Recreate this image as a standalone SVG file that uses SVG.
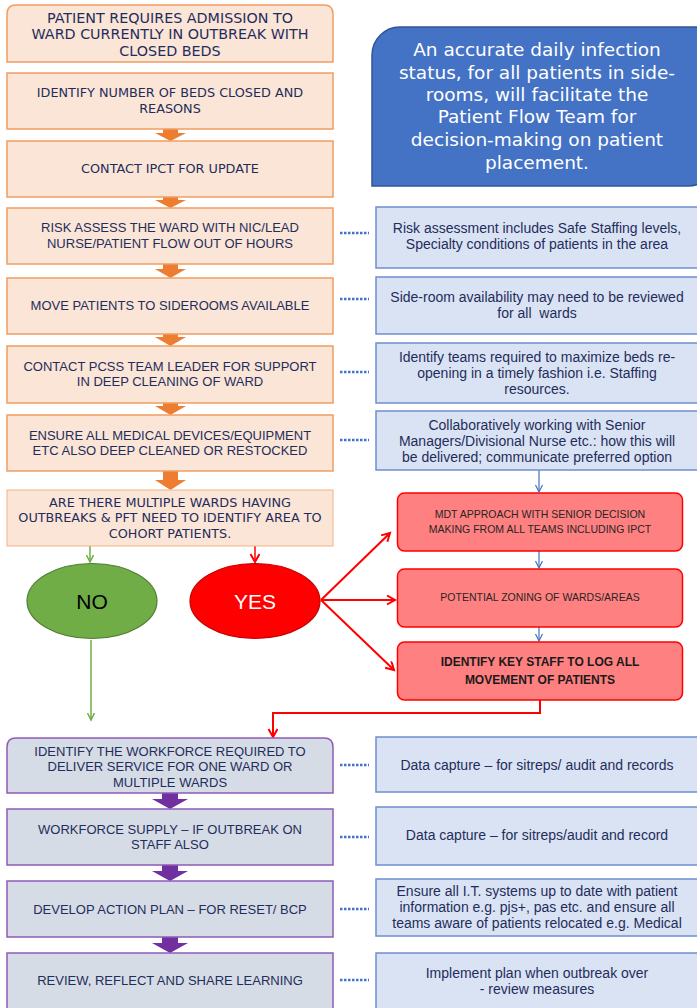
<svg xmlns="http://www.w3.org/2000/svg" width="697" height="1008" viewBox="0 0 697 1008">
<style>
.ob{fill:#FBE5D6;stroke:#F19E62;stroke-width:1.5}
.pb{fill:#D6DCE5;stroke:#8E5BB8;stroke-width:1.5}
.rb{fill:#DAE3F3;stroke:#6F8FCF;stroke-width:1.5}
.red{fill:#FF8080;stroke:#FF0000;stroke-width:1.5}
.tv{font-family:"DejaVu Sans",Verdana,sans-serif;fill:#1F2D5C;text-anchor:middle}
.tt{font-family:"Liberation Sans",Arial,sans-serif;font-size:13px;fill:#1F2D5C;text-anchor:middle}
.tr{font-family:"Liberation Sans",Arial,sans-serif;font-size:14px;fill:#1F2D5C;text-anchor:middle;white-space:pre}
.tc{font-family:"Liberation Sans",Arial,sans-serif;font-size:10.5px;fill:#262626;text-anchor:middle}
.tb{font-family:"Liberation Sans",Arial,sans-serif;font-size:12px;font-weight:bold;fill:#1a1a1a;text-anchor:middle}
.oa{fill:#ED7D31}
.pa{fill:#7030A0}
.dot{stroke:#4472C4;stroke-width:2.5;stroke-dasharray:2.5 1.5;fill:none}
</style>
<defs>
<marker id="ar" markerWidth="12" markerHeight="12" refX="9" refY="5" orient="auto" markerUnits="userSpaceOnUse"><path d="M1,0.5 L9,5 L1,9.5" fill="none" stroke="#FF0000" stroke-width="2"/></marker>
<marker id="ag" markerWidth="10" markerHeight="10" refX="8" refY="4" orient="auto" markerUnits="userSpaceOnUse"><path d="M1,0.5 L8,4 L1,7.5" fill="none" stroke="#70AD47" stroke-width="1.5"/></marker>
<marker id="ab" markerWidth="10" markerHeight="10" refX="8" refY="4" orient="auto" markerUnits="userSpaceOnUse"><path d="M1,0.5 L8,4 L1,7.5" fill="none" stroke="#4472C4" stroke-width="1.2"/></marker>
</defs>

<g id="callout">
<path d="M372,186 V55 A28,28 0 0 1 400,27 H716 V158 A28,28 0 0 1 688,186 Z" fill="#4472C4" stroke="#2F5597" stroke-width="1.5"/>
<g font-family="'DejaVu Sans',Verdana,sans-serif" font-size="18.5" fill="#FFFFFF" text-anchor="middle">
<text x="537" y="56">An accurate daily infection</text>
<text x="537" y="79">status, for all patients in side-</text>
<text x="537" y="101">rooms, will facilitate the</text>
<text x="537" y="123">Patient Flow Team for</text>
<text x="537" y="146">decision-making on patient</text>
<text x="537" y="169">placement.</text>
</g>
</g>

<g id="connectors">
<polygon class="oa" points="163,128 178,128 178,133 186,133 170.5,141 155,133 163,133"/>
<polygon class="oa" points="163,196 178,196 178,200 186,200 170.5,208 155,200 163,200"/>
<polygon class="oa" points="163,263 178,263 178,269 186,269 170.5,278 155,269 163,269"/>
<polygon class="oa" points="163,333 178,333 178,337 186,337 170.5,346 155,337 163,337"/>
<polygon class="oa" points="163,402 178,402 178,406 186,406 170.5,415 155,406 163,406"/>
<polygon class="oa" points="163,470 178,470 178,480 186,480 170.5,490 155,480 163,480"/>
<polygon class="pa" points="162,792 178,792 178,799 188,799 170,809 152,799 162,799"/>
<polygon class="pa" points="162,864 178,864 178,871 188,871 170,881 152,871 162,871"/>
<polygon class="pa" points="162,936 178,936 178,943 188,943 170,953 152,943 162,943"/>
<line class="dot" x1="340" y1="233" x2="369" y2="233"/>
<line class="dot" x1="340" y1="299" x2="369" y2="299"/>
<line class="dot" x1="340" y1="372" x2="369" y2="372"/>
<line class="dot" x1="340" y1="440" x2="369" y2="440"/>
<line class="dot" x1="340" y1="765" x2="369" y2="765"/>
<line class="dot" x1="340" y1="837" x2="369" y2="837"/>
<line class="dot" x1="340" y1="909" x2="369" y2="909"/>
<line class="dot" x1="340" y1="980" x2="369" y2="980"/>
<line x1="90" y1="546" x2="90" y2="562" stroke="#70AD47" stroke-width="1.5" marker-end="url(#ag)"/>
<line x1="91" y1="640" x2="91" y2="720" stroke="#70AD47" stroke-width="1.5" marker-end="url(#ag)"/>
<line x1="255" y1="546" x2="255" y2="562" stroke="#FF0000" stroke-width="1.5" marker-end="url(#ar)"/>
<line x1="321" y1="600" x2="390" y2="533" stroke="#FF0000" stroke-width="2" marker-end="url(#ar)"/>
<line x1="321" y1="600" x2="395" y2="600" stroke="#FF0000" stroke-width="2" marker-end="url(#ar)"/>
<line x1="321" y1="600" x2="394" y2="670" stroke="#FF0000" stroke-width="2" marker-end="url(#ar)"/>
<line x1="539" y1="470" x2="539" y2="492" stroke="#4472C4" stroke-width="1.2" marker-end="url(#ab)"/>
<line x1="539" y1="551" x2="539" y2="568" stroke="#4472C4" stroke-width="1.2" marker-end="url(#ab)"/>
<line x1="539" y1="627" x2="539" y2="641" stroke="#4472C4" stroke-width="1.2" marker-end="url(#ab)"/>
<polyline points="540,700 540,713 273,713 273,737" fill="none" stroke="#FF0000" stroke-width="2" marker-end="url(#ar)"/>
</g>

<g id="n1"><path class="ob" d="M7,62 V14 Q7,5 16,5 H324 Q333,5 333,14 V62 Z"/>
<text class="tv" font-size="14.3" x="170" y="23">PATIENT REQUIRES ADMISSION TO</text>
<text class="tv" font-size="14.3" x="170" y="39">WARD CURRENTLY IN OUTBREAK WITH</text>
<text class="tv" font-size="14.3" x="170" y="56">CLOSED BEDS</text></g>

<g id="n2"><rect class="ob" x="7" y="73" width="326" height="56"/>
<text class="tv" font-size="12.8" x="170" y="97">IDENTIFY NUMBER OF BEDS CLOSED AND</text>
<text class="tv" font-size="12.8" x="170" y="113">REASONS</text></g>

<g id="n3"><rect class="ob" x="7" y="141" width="326" height="56"/>
<text class="tv" font-size="12.8" x="170" y="173">CONTACT IPCT FOR UPDATE</text></g>

<g id="n4"><rect class="ob" x="7" y="208" width="326" height="56"/>
<text class="tt" x="170" y="232">RISK ASSESS THE WARD WITH NIC/LEAD</text>
<text class="tt" x="170" y="248">NURSE/PATIENT FLOW OUT OF HOURS</text></g>

<g id="n5"><rect class="ob" x="7" y="278" width="326" height="56"/>
<text class="tt" x="170" y="310">MOVE PATIENTS TO SIDEROOMS AVAILABLE</text></g>

<g id="n6"><rect class="ob" x="7" y="346" width="326" height="57"/>
<text class="tt" x="170" y="371">CONTACT PCSS TEAM LEADER FOR SUPPORT</text>
<text class="tt" x="170" y="386">IN DEEP CLEANING OF WARD</text></g>

<g id="n7"><rect class="ob" x="7" y="415" width="326" height="56"/>
<text class="tt" x="170" y="440">ENSURE ALL MEDICAL DEVICES/EQUIPMENT</text>
<text class="tt" x="170" y="455">ETC ALSO DEEP CLEANED OR RESTOCKED</text></g>

<g id="n8"><rect x="7" y="490" width="326" height="56" fill="#FBE5D6" stroke="#F4B183" stroke-width="1"/>
<text class="tv" font-size="12.8" x="170" y="507">ARE THERE MULTIPLE WARDS HAVING</text>
<text class="tv" font-size="12.8" x="170" y="522">OUTBREAKS &amp; PFT NEED TO IDENTIFY AREA TO</text>
<text class="tv" font-size="12.8" x="170" y="538">COHORT PATIENTS.</text></g>

<g id="no"><ellipse cx="92" cy="601" rx="65" ry="37.5" fill="#70AD47" stroke="#507E32" stroke-width="1.2"/>
<text x="92" y="609" font-family="'Liberation Sans',Arial,sans-serif" font-size="21" fill="#000" text-anchor="middle">NO</text></g>

<g id="yes"><ellipse cx="255" cy="601" rx="65" ry="37.5" fill="#FF0000" stroke="#C00000" stroke-width="1.2"/>
<text x="255" y="609" font-family="'Liberation Sans',Arial,sans-serif" font-size="21" fill="#FFFFFF" text-anchor="middle">YES</text></g>

<g id="r1"><rect class="red" x="397.5" y="493" width="285" height="58" rx="7"/>
<text class="tc" x="540" y="517.5">MDT APPROACH WITH SENIOR DECISION</text>
<text class="tc" x="540" y="532.5">MAKING FROM ALL TEAMS INCLUDING IPCT</text></g>

<g id="r2"><rect class="red" x="397.5" y="569" width="285" height="58" rx="7"/>
<text class="tc" x="540" y="601">POTENTIAL ZONING OF WARDS/AREAS</text></g>

<g id="r3"><rect class="red" x="397.5" y="642" width="285" height="58" rx="7"/>
<text class="tb" x="540" y="666">IDENTIFY KEY STAFF TO LOG ALL</text>
<text class="tb" x="540" y="684">MOVEMENT OF PATIENTS</text></g>

<g id="n9"><path class="pb" d="M7,793 V747 Q7,738 16,738 H324 Q333,738 333,747 V793 Z"/>
<text class="tt" x="170" y="756">IDENTIFY THE WORKFORCE REQUIRED TO</text>
<text class="tt" x="170" y="771">DELIVER SERVICE FOR ONE WARD OR</text>
<text class="tt" x="170" y="787">MULTIPLE WARDS</text></g>

<g id="n10"><rect class="pb" x="7" y="809" width="326" height="56"/>
<text class="tt" x="170" y="834">WORKFORCE SUPPLY – IF OUTBREAK ON</text>
<text class="tt" x="170" y="849">STAFF ALSO</text></g>

<g id="n11"><rect class="pb" x="7" y="881" width="326" height="56"/>
<text class="tt" x="170" y="914">DEVELOP ACTION PLAN – FOR RESET/ BCP</text></g>

<g id="n12"><rect class="pb" x="7" y="953" width="326" height="60"/>
<text class="tt" x="170" y="985">REVIEW, REFLECT AND SHARE LEARNING</text></g>

<g id="s1"><rect class="rb" x="376" y="207" width="325" height="61"/>
<text class="tr" x="537" y="233">Risk assessment includes Safe Staffing levels,</text>
<text class="tr" x="537" y="249">Specialty conditions of patients in the area</text></g>

<g id="s2"><rect class="rb" x="376" y="277" width="325" height="57"/>
<text class="tr" x="537" y="302">Side-room availability may need to be reviewed</text>
<text class="tr" x="537" y="318" xml:space="preserve">for all  wards</text></g>

<g id="s3"><rect class="rb" x="376" y="343" width="325" height="60"/>
<text class="tr" x="537" y="362">Identify teams required to maximize beds re-</text>
<text class="tr" x="537" y="378">opening in a timely fashion i.e. Staffing</text>
<text class="tr" x="537" y="394">resources.</text></g>

<g id="s4"><rect class="rb" x="376" y="411" width="325" height="59"/>
<text class="tr" x="537" y="430">Collaboratively working with Senior</text>
<text class="tr" x="537" y="446">Managers/Divisional Nurse etc.: how this will</text>
<text class="tr" x="537" y="462">be delivered; communicate preferred option</text></g>

<g id="s5"><rect class="rb" x="376" y="737" width="325" height="55"/>
<text class="tr" x="537" y="770">Data capture – for sitreps/ audit and records</text></g>

<g id="s6"><rect class="rb" x="376" y="807" width="325" height="58"/>
<text class="tr" x="537" y="840">Data capture – for sitreps/audit and record</text></g>

<g id="s7"><rect class="rb" x="376" y="879" width="325" height="57"/>
<text class="tr" x="537" y="896">Ensure all I.T. systems up to date with patient</text>
<text class="tr" x="537" y="912">information e.g. pjs+, pas etc. and ensure all</text>
<text class="tr" x="537" y="928">teams aware of patients relocated e.g. Medical</text></g>

<g id="s8"><rect class="rb" x="376" y="953" width="325" height="60"/>
<text class="tr" x="537" y="978">Implement plan when outbreak over</text>
<text class="tr" x="537" y="994">- review measures</text></g>
</svg>
